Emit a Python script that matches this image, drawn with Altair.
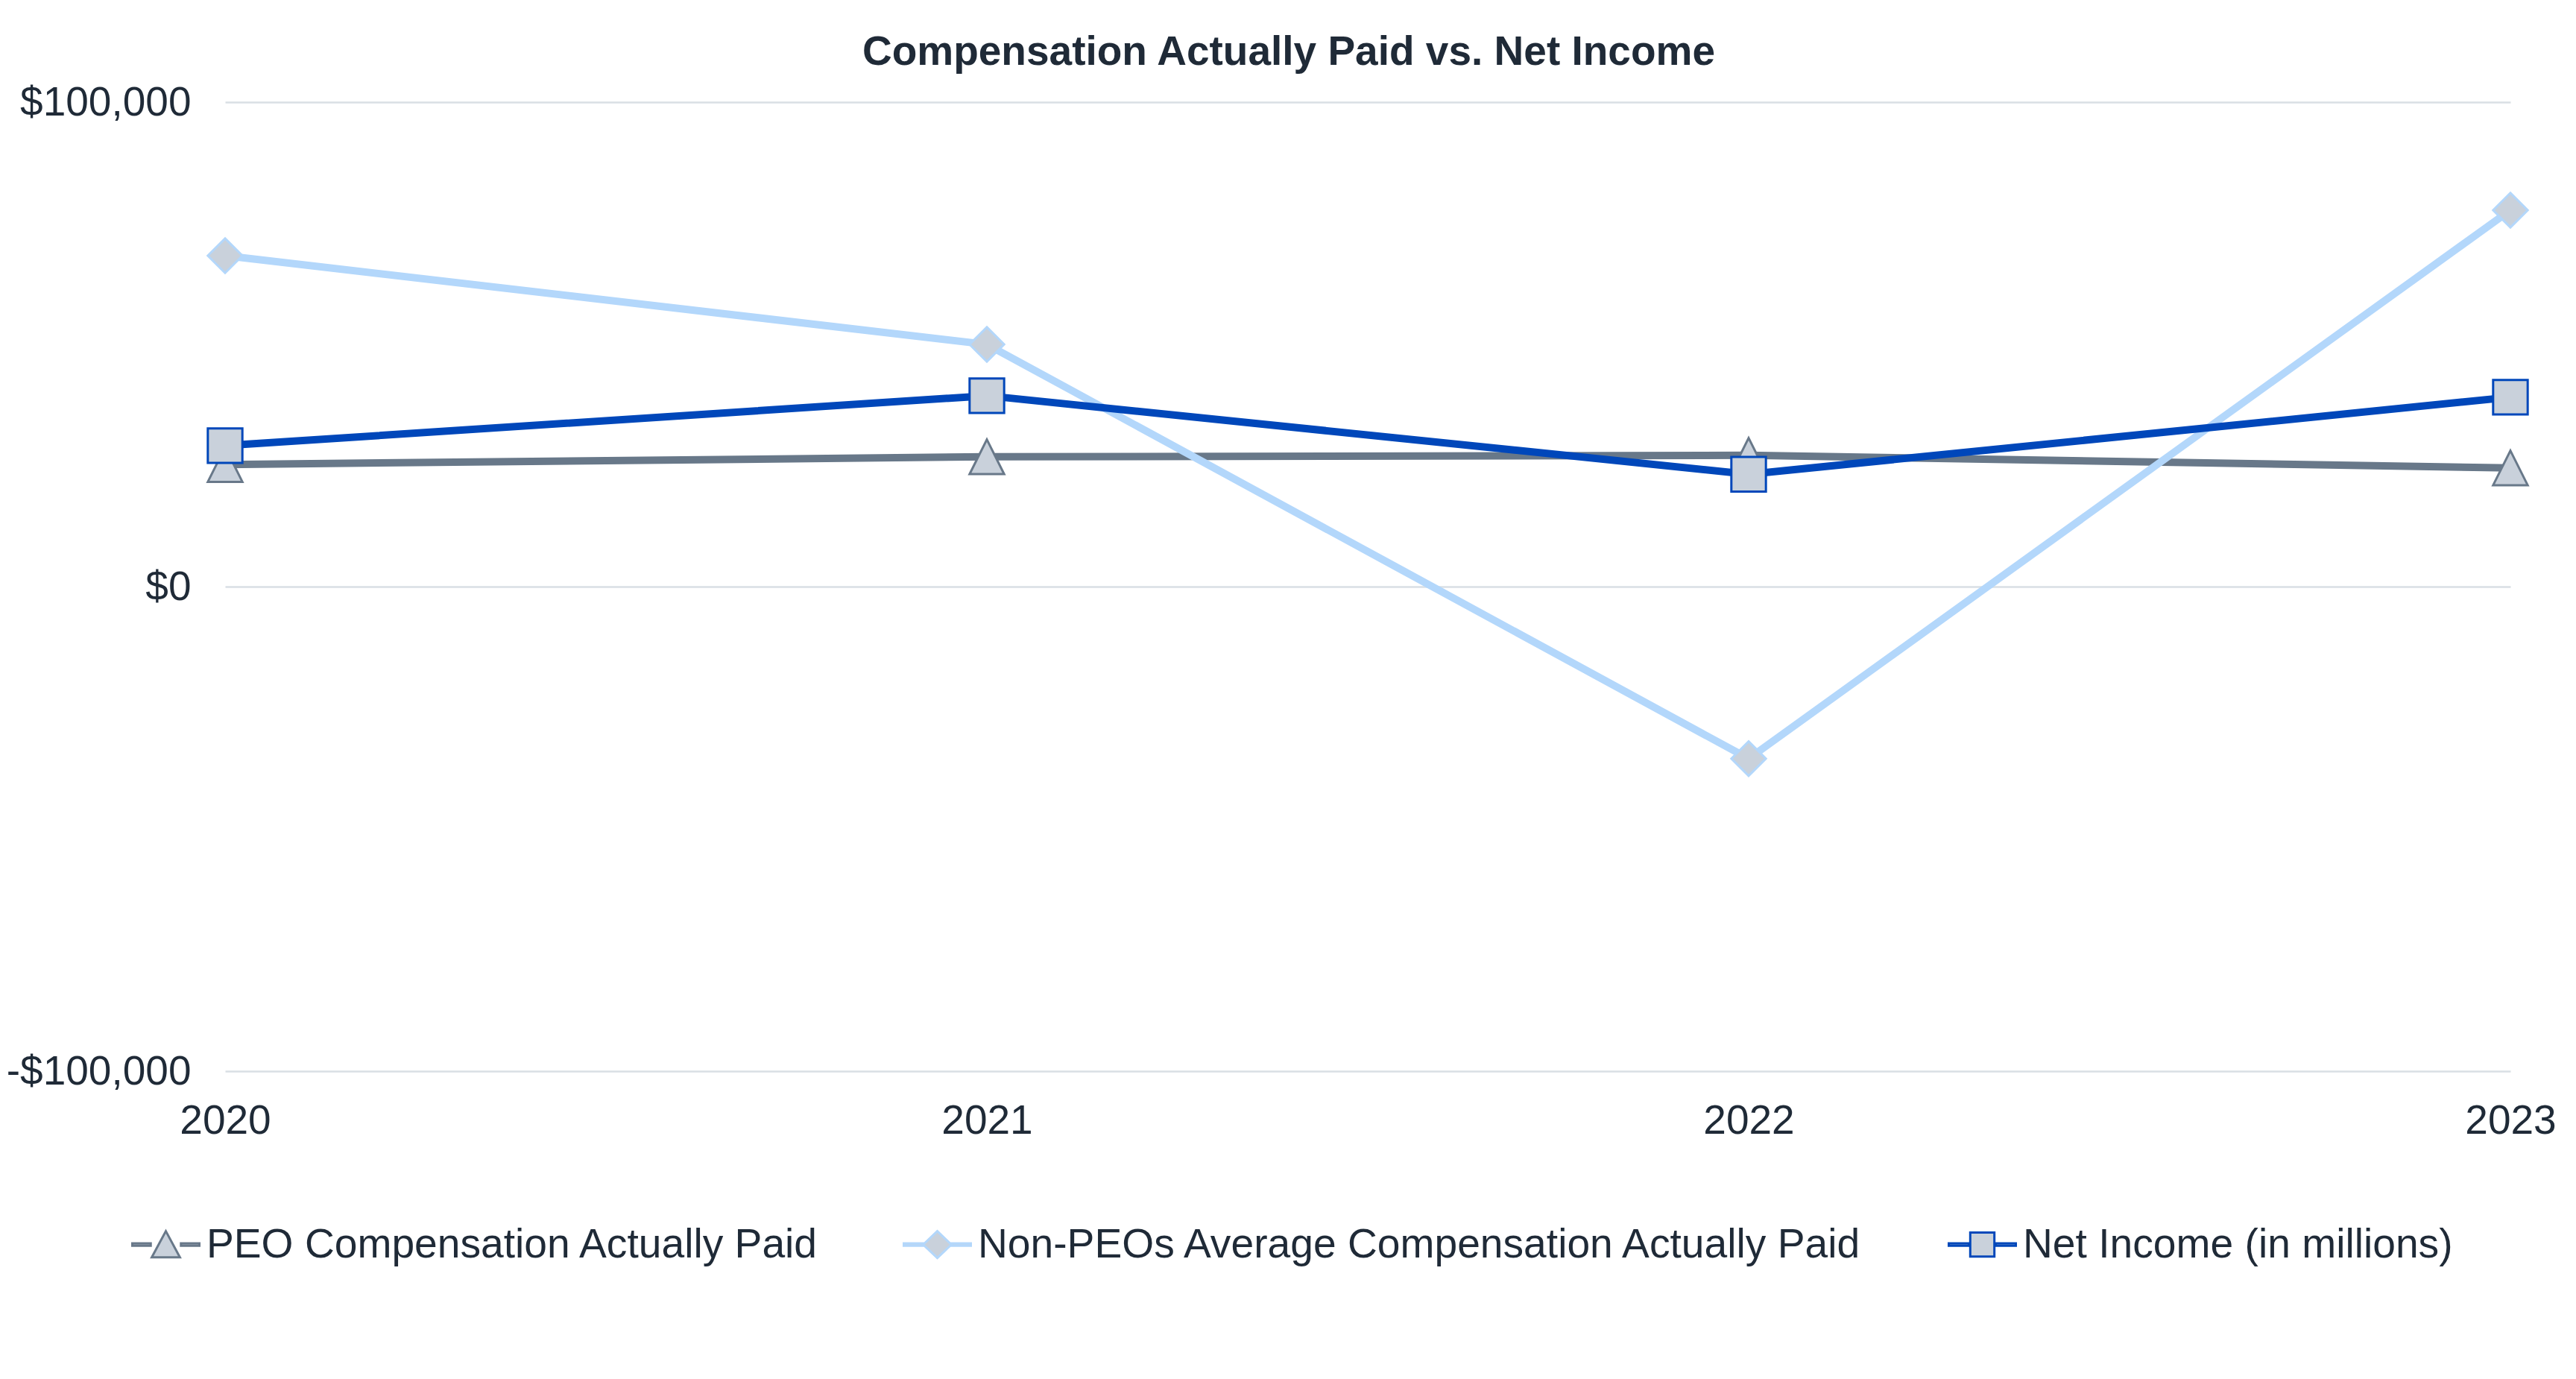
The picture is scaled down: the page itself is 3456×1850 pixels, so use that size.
import altair as alt
import pandas as pd

# ---- data ----
years = ["2020", "2021", "2022", "2023"]
series_names = [
    "PEO Compensation Actually Paid",
    "Non-PEOs Average Compensation Actually Paid",
    "Net Income (in millions)",
]
peo_cap = [25200, 26800, 27100, 24500]
non_peo_cap = [68300, 50000, -35500, 77700]
net_income = [29100, 39400, 23200, 39100]

y_ticks = [-100000, 0, 100000]

# ---- styling ----
FONT = "Liberation Sans"
TEXT = "#1f2a37"
GRID = "#d9dfe4"
MARKER_FILL = "#c9d1db"
colors = ["#687889", "#b3d7fb", "#0047ba"]
line_widths = [10, 10, 10]
marker_paths = [
    "M0,-1L1,1L-1,1Z",            # triangle
    "M0,-1L1,0L0,1L-1,0Z",        # diamond
    "M-1,-1L1,-1L1,1L-1,1Z",      # square
]
# legend symbols: short thick line with a small marker in the middle
legend_paths = [
    "M-1,-0.035L-0.45,-0.035L-0.45,0.035L-1,0.035Z M0.45,-0.035L1,-0.035L1,0.035L0.45,0.035Z M0,-0.4L0.42,0.38L-0.42,0.38Z",
    "M-1,-0.035L-0.42,-0.035L-0.42,0.035L-1,0.035Z M0.42,-0.035L1,-0.035L1,0.035L0.42,0.035Z M0,-0.4L0.42,0L0,0.4L-0.42,0Z",
    "M-1,-0.035L-0.4,-0.035L-0.4,0.035L-1,0.035Z M0.4,-0.035L1,-0.035L1,0.035L0.4,0.035Z M-0.36,-0.36L0.36,-0.36L0.36,0.36L-0.36,0.36Z",
]

rows = []
for name, vals in zip(series_names, [peo_cap, non_peo_cap, net_income]):
    for yr, v in zip(years, vals):
        rows.append({"year": yr, "series": name, "value": v})
df = pd.DataFrame(rows)

X = alt.X(
    "year:O",
    sort=years,
    scale=alt.Scale(type="point", padding=0),
    axis=alt.Axis(
        title=None, labelAngle=0, domain=False, ticks=False, tickSize=0, grid=False,
        labelFontSize=55, labelFont=FONT, labelColor=TEXT, labelPadding=40,
    ),
)
Y = alt.Y(
    "value:Q",
    scale=alt.Scale(domain=[-100000, 100000], nice=False, zero=False),
    axis=alt.Axis(
        title=None, values=y_ticks, domain=False, ticks=False, tickSize=0,
        grid=True, gridColor=GRID, gridWidth=2.5, labelLimit=0,
        labelFontSize=55, labelFont=FONT, labelColor=TEXT, labelPadding=46,
        labelExpr="datum.value < 0 ? '-$' + format(-datum.value, ',') : '$' + format(datum.value, ',')",
    ),
)

base = alt.Chart(df)
layers = []
for name, col, lw, path in zip(series_names, colors, line_widths, marker_paths):
    sub = base.transform_filter(alt.datum.series == name)
    layers.append(sub.mark_line(color=col, strokeWidth=lw).encode(x=X, y=Y))
    layers.append(
        sub.mark_point(
            shape=path, size=2150, filled=True, fill=MARKER_FILL, stroke=col,
            strokeWidth=3, opacity=1,
        ).encode(x=X, y=Y)
    )

legend_def = alt.Legend(
    title=None, orient="none", direction="horizontal", legendX=-126, legendY=1486,
    labelFontSize=55.2, labelFont=FONT, labelColor=TEXT, labelLimit=0,
    symbolSize=8100, symbolStrokeWidth=3, labelOffset=8, columnPadding=106,
    padding=0, symbolFillColor=MARKER_FILL,
)
legend_layer = base.transform_filter("datum.value > 1e12").mark_point(
    filled=True, fill=MARKER_FILL, strokeWidth=3, opacity=1, size=8100
).encode(
    stroke=alt.Stroke("series:N", scale=alt.Scale(domain=series_names, range=colors), legend=legend_def),
    shape=alt.Shape("series:N", scale=alt.Scale(domain=series_names, range=legend_paths), legend=legend_def),
)

chart = alt.layer(*layers, legend_layer).properties(
    width=3066,
    height=1300,
    padding={"left": 302, "top": 137, "right": 88, "bottom": 413},
    autosize=alt.AutoSizeParams(type="none"),
    background="white",
    title=alt.Title(
        "Compensation Actually Paid vs. Net Income",
        fontSize=55, fontWeight="bold", font=FONT, color=TEXT,
        anchor="middle", frame="group", dx=-106, offset=11,
    ),
).configure_view(stroke=None)

chart.save("out.html", embed_options={"renderer": "svg", "actions": False})
